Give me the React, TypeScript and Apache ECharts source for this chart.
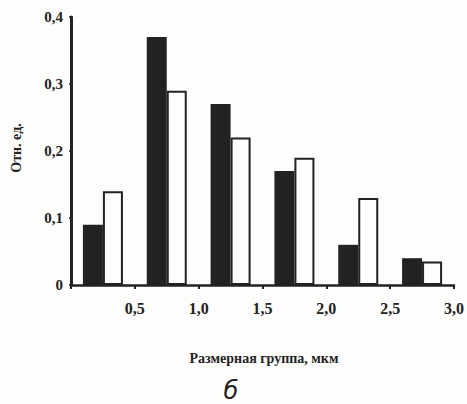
import React, { useEffect, useRef } from "react";
import * as echarts from "echarts";

const categories = ["0–0,5", "0,5–1,0", "1,0–1,5", "1,5–2,0", "2,0–2,5", "2,5–3,0"];
const blackValues = [0.09, 0.37, 0.27, 0.17, 0.06, 0.04];
const whiteValues = [0.14, 0.29, 0.22, 0.19, 0.13, 0.035];
const yTitle = "Отн. ед.";
const xTitle = "Размерная группа, мкм";
const caption = "б";

const ink = "#222";
const fontFamily = "'Liberation Serif', 'DejaVu Serif', serif";

const fmt = (v: number) => (v === 0 ? "0" : v.toFixed(1).replace(".", ","));

export default function App() {
  const ref = useRef<HTMLDivElement>(null);
  useEffect(() => {
    if (!ref.current) return;
    const chart = echarts.init(ref.current, undefined, { renderer: "svg" });
    chart.setOption({
      animation: false,
      backgroundColor: "#fdfdfc",
      grid: { left: 71, top: 17, right: 12, bottom: 119, containLabel: false },
      xAxis: [
        {
          type: "category",
          data: categories,
          boundaryGap: true,
          show: false,
        },
        {
          type: "value",
          min: 0,
          max: 3,
          interval: 0.5,
          position: "bottom",
          axisLine: { show: true, lineStyle: { color: ink, width: 2.5 } },
          axisTick: { show: true, length: 4, lineStyle: { color: ink, width: 2 } },
          splitLine: { show: false },
          axisLabel: {
            color: ink,
            fontFamily,
            fontWeight: "bold",
            fontSize: 16,
            margin: 15,
            formatter: (v: number) => (v === 0 ? "" : v.toFixed(1).replace(".", ",")),
          },
        },
      ],
      yAxis: {
        type: "value",
        min: 0,
        max: 0.4,
        interval: 0.1,
        axisLine: { show: true, lineStyle: { color: ink, width: 3 } },
        axisTick: { show: true, length: 2, lineStyle: { color: ink, width: 1.5 } },
        splitLine: { show: false },
        axisLabel: {
          color: ink,
          fontFamily,
          fontWeight: "bold",
          fontSize: 15,
          margin: 8,
          formatter: fmt,
        },
      },
      series: [
        {
          type: "bar",
          xAxisIndex: 0,
          data: blackValues,
          barWidth: 20,
          barGap: "0%",
          itemStyle: { color: ink },
        },
        {
          type: "bar",
          xAxisIndex: 0,
          data: whiteValues,
          barWidth: 20,
          barGap: "0%",
          itemStyle: { color: "#fdfdfc", borderColor: ink, borderWidth: 2 },
        },
      ],
      graphic: [
        {
          type: "text",
          x: 16,
          y: 148,
          rotation: Math.PI / 2,
          style: {
            text: yTitle,
            fill: ink,
            font: `bold 14px ${fontFamily}`,
            align: "center",
            verticalAlign: "middle",
          },
        },
        {
          type: "text",
          x: 264,
          y: 358,
          style: {
            text: xTitle,
            fill: ink,
            font: `bold 14px ${fontFamily}`,
            align: "center",
            verticalAlign: "middle",
          },
        },
        {
          type: "text",
          x: 231,
          y: 391,
          style: {
            text: caption,
            fill: ink,
            font: `italic 24px 'DejaVu Sans', sans-serif`,
            align: "center",
            verticalAlign: "middle",
          },
        },
      ],
    });
    return () => chart.dispose();
  }, []);
  return <div ref={ref} style={{ width: 467, height: 404, position: "absolute", left: 0, top: 0 }} />;
}
